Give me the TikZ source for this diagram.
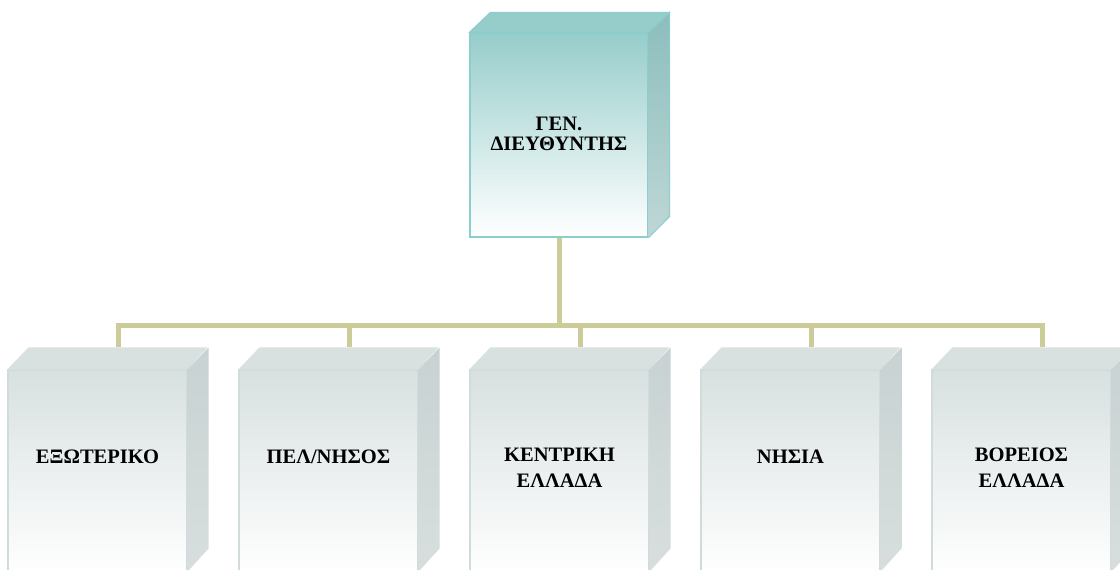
\documentclass[tikz,border=0pt]{standalone}
\usepackage{fontspec}
\setmainfont{Liberation Serif}
\usetikzlibrary{calc}

\definecolor{conncol}{RGB}{204,204,153}
\definecolor{gdteal}{RGB}{150,205,203}
\definecolor{gdsidetop}{RGB}{140,190,188}
\definecolor{gdsidebot}{RGB}{190,215,214}
\definecolor{gdborder}{RGB}{140,205,205}
\definecolor{regtop}{RGB}{216,224,224}
\definecolor{regsidetop}{RGB}{200,210,210}
\definecolor{regsidebot}{RGB}{216,222,222}
\definecolor{regborder}{RGB}{208,220,220}

\tikzset{
  gdfront/.style={draw=gdborder, line width=0.8pt, top color=gdteal, bottom color=white,
    minimum width=4.45cm, minimum height=5.1cm, inner sep=0pt},
  regfront/.style={draw=regborder, line width=0.8pt, top color=regtop, bottom color=white!60!regtop!5,
    minimum width=4.475cm, minimum height=5.025cm, inner sep=0pt},
  lbl/.style={align=center, inner sep=0pt, font=\fontsize{14.6}{18.5}\selectfont\bfseries},
  conn/.style={draw=conncol, line width=0.125cm}
}

\begin{document}
\begin{tikzpicture}[x=0.025cm,y=-0.025cm]
	\useasboundingbox (0,0) rectangle (1120,570);
	\fill[white] (0,0) rectangle (1120,570);

	% general director
	\node[gdfront] (gd) at (559,135) {};
	\filldraw[fill=gdteal, draw=gdborder, line width=0.8pt] (gd.north west) -- ++(21,-20) -- ++(178,0) -- (gd.north east) -- cycle;
	\shade[top color=gdsidetop, bottom color=gdsidebot] (gd.north east) -- ++(21,-20) -- ++(0,204) -- (gd.south east) -- cycle;
	\draw[gdborder, line width=0.8pt] (gd.north east) -- ++(21,-20) -- ++(0,204) -- (gd.south east);
	\node[lbl, font=\fontsize{14.6}{14.5}\selectfont\bfseries] (gdtext) at (gd.center |- 0,134) {ΓΕΝ.\\ΔΙΕΥΘΥΝΤΗΣ};

	% regions
	\foreach \i/\name/\ty in {0/{ΕΞΩΤΕΡΙΚΟ}/457, 1/{ΠΕΛ/ΝΗΣΟΣ}/457, 2/{ΚΕΝΤΡΙΚΗ\\ΕΛΛΑΔΑ}/468, 3/{ΝΗΣΙΑ}/457, 4/{ΒΟΡΕΙΟΣ\\ΕΛΛΑΔΑ}/468}
	{
		\node[regfront] (r\i) at (97.5+231*\i,470.5) {};
		\fill[regtop] (r\i.north west) -- ++(21,-22) -- ++(179,0) -- (r\i.north east) -- cycle;
		\shade[top color=regsidetop, bottom color=regsidebot] (r\i.north east) -- ++(21,-22) -- ++(0,201) -- (r\i.south east) -- cycle;
		\coordinate (t\i) at ($(r\i.north)+(21,-22)$);
		\node[lbl] (l\i) at (r\i.center |- 0,\ty) {\name};
	}

	% connectors
	\coordinate (bar) at (0,326);
	\foreach \i in {0,...,4}
		\draw[conn] (gd.south) -- (gd.south |- bar) -| (t\i);
\end{tikzpicture}
\end{document}
